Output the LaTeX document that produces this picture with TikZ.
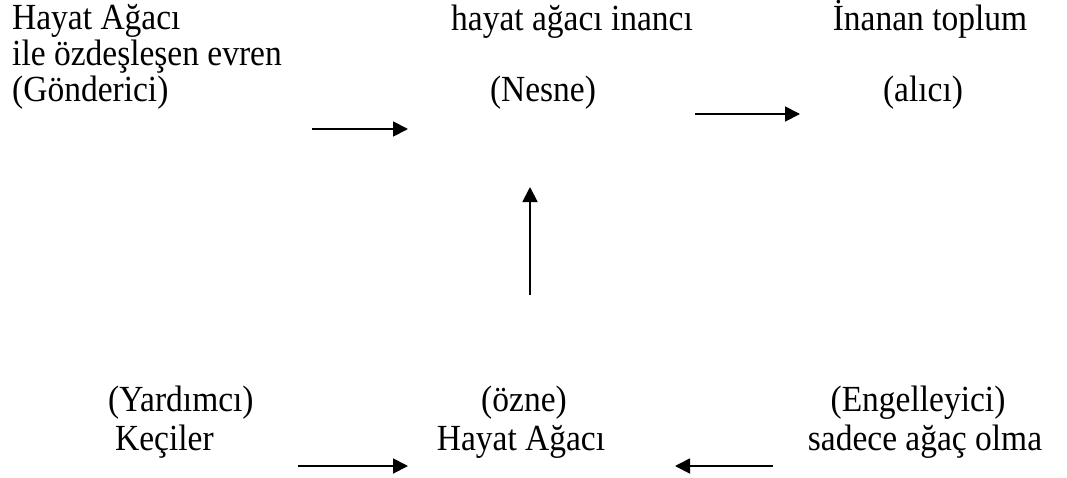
\documentclass[tikz,border=0pt]{standalone}
\usepackage{fontspec}
\setmainfont[FakeStretch=0.91]{Liberation Serif}
\usepackage{tikz}
\usetikzlibrary{arrows.meta}
\usetikzlibrary{positioning}
\tikzset{
	>={Triangle[length=15pt,width=15pt]},
	actant/.style={inner sep=0pt, anchor=base, font=\fontsize{36.8}{40}\selectfont},
	actantleft/.style={actant, anchor=base west},
	upper/.style={text depth=2pt},
	lower/.style={text height=26pt},
	relation/.style={draw=black, line width=1.8pt, ->},
}
\begin{document}
\begin{tikzpicture}[x=1pt, y=-1pt]
	\useasboundingbox (0,0) rectangle (1067,477);
	% Gonderici
	\node[actantleft] (sender1) at (12,29) {Hayat Ağacı};
	\node[actantleft] (sender2) at (12,65) {ile özdeşleşen evren};
	\node[actantleft] (sender3) at (12,101) {(Gönderici)};
	% Nesne
	\node[actant] (object1) at (572,30) {hayat ağacı inancı};
	\node[actant] (object2) at (543,101) {(Nesne)};
	% Alici
	\node[actant] (receiver1) at (930,30) {İnanan toplum};
	\node[actant] (receiver2) at (923,101) {(alıcı)};
	% Yardimci
	\node[actantleft, upper] (helper1) at (108,411) {(Yardımcı)};
	\node[actantleft, lower] (helper2) at (115,450) {Keçiler};
	% Ozne
	\node[actant, upper] (subject1) at (524,411) {(özne)};
	\node[actant, lower] (subject2) at (521,450) {Hayat Ağacı};
	% Engelleyici
	\node[actant, upper] (opponent1) at (918,411) {(Engelleyici)};
	\node[actant, lower] (opponent2) at (925,450) {sadece ağaç olma};
	% arrow ends
	\coordinate (sendtail) at (312,129);
	\coordinate (sendtip) at (408,129);
	\coordinate (recvtail) at (695,114);
	\coordinate (recvtip) at (800,114);
	\coordinate (subjtail) at (530,295);
	\coordinate (subjtip) at (530,187);
	\coordinate (helptail) at (298,466);
	\coordinate (helptip) at (408,466);
	\coordinate (opptail) at (773,466);
	\coordinate (opptip) at (675,466);
	\draw[relation] (sendtail)--(sendtip);
	\draw[relation] (recvtail)--(recvtip);
	\draw[relation] (subjtail)--(subjtip);
	\draw[relation] (helptail)--(helptip);
	\draw[relation] (opptail)--(opptip);
\end{tikzpicture}
\end{document}
